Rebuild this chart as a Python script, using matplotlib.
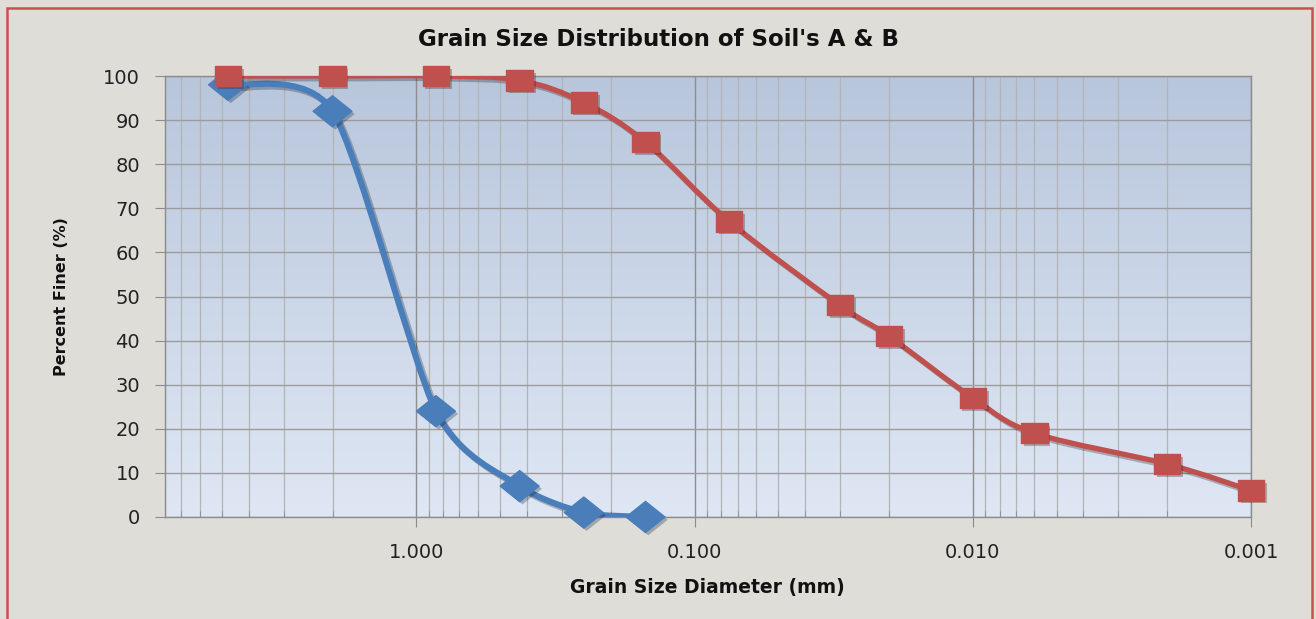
import numpy as np
import matplotlib
matplotlib.use('Agg')
import matplotlib.pyplot as plt
from matplotlib.path import Path
from matplotlib.patches import PathPatch, Rectangle
from matplotlib.colors import LinearSegmentedColormap
from matplotlib.ticker import FixedLocator, LogLocator, NullFormatter
import matplotlib.patheffects as pe

# sieve / hydrometer data
size_a = [4.75, 2.0, 0.85, 0.425, 0.25, 0.15]
finer_a = [98, 92, 24, 7, 1, 0]
size_b = [4.75, 2.0, 0.85, 0.425, 0.25, 0.15, 0.075, 0.030, 0.020, 0.010, 0.006, 0.002, 0.001]
finer_b = [100, 100, 100, 99, 94, 85, 67, 48, 41, 27, 19, 12, 6]
x_ticks = [1.0, 0.1, 0.01, 0.001]
y_ticks = list(range(0, 101, 10))

W, H = 1316, 619
fig = plt.figure(figsize=(W / 100, H / 100), dpi=100)
fig.patch.set_facecolor('#dfddd8')

# red chart border
fig.add_artist(Rectangle((7 / W, -0.05), (1312 - 7) / W, 1 - 8 / H + 0.05,
                         transform=fig.transFigure, fill=False,
                         edgecolor='#c9504d', linewidth=1.8))

pos = [165 / W, (H - 517) / H, (1251 - 165) / W, (517 - 76) / H]

# plot area gradient
bg = fig.add_axes(pos, zorder=0)
cmap = LinearSegmentedColormap.from_list('plotbg', ['#dfe7f4', '#b8c6dc'])
bg.imshow(np.linspace(0, 1, 256).reshape(-1, 1), extent=[0, 1, 0, 1],
          origin='lower', cmap=cmap, aspect='auto')
bg.axis('off')

ax = fig.add_axes(pos, zorder=1)
ax.set_facecolor('none')
ax.set_xscale('log')
ax.set_xlim(8, 0.001)
ax.set_ylim(0, 100)

ax.xaxis.set_major_locator(FixedLocator(x_ticks))
ax.set_xticklabels(['%.3f' % t for t in x_ticks])
ax.xaxis.set_minor_locator(LogLocator(base=10, subs=np.arange(2, 10)))
ax.xaxis.set_minor_formatter(NullFormatter())
ax.set_yticks(y_ticks)

ax.grid(which='major', axis='y', color='#9c9c9c', linewidth=1.0)
ax.grid(which='major', axis='x', color='#8e8e8e', linewidth=1.0)
ax.grid(which='minor', axis='x', color='#b4b4b4', linewidth=0.9)
ax.set_axisbelow(True)

for s in ax.spines.values():
    s.set_color('#8c8c8c')
    s.set_linewidth(1.0)

ax.tick_params(axis='both', which='major', direction='out', length=7,
               color='#8c8c8c', labelsize=14, labelcolor='#222222')
ax.tick_params(axis='x', which='major', pad=12)
ax.tick_params(axis='y', which='major', pad=11)
ax.tick_params(axis='x', which='minor', direction='in', length=4, color='#8c8c8c')


def smooth_patch(xs, ys, color, lw, k=6.0):
    # Excel-like smoothed line: cubic Bezier through the points in display space
    P = ax.transData.transform(np.column_stack([xs, ys]))
    n = len(P)
    verts = [P[0]]
    codes = [Path.MOVETO]
    for i in range(n - 1):
        p0 = P[i - 1] if i > 0 else P[i]
        p1 = P[i]
        p2 = P[i + 1]
        p3 = P[i + 2] if i + 2 < n else P[i + 1]
        c1 = p1 + (p2 - p0) / k
        c2 = p2 - (p3 - p1) / k
        verts += [c1, c2, p2]
        codes += [Path.CURVE4] * 3
    verts = ax.transData.inverted().transform(np.array(verts))
    patch = PathPatch(Path(verts, codes), facecolor='none', edgecolor=color,
                      linewidth=lw, capstyle='round', joinstyle='round',
                      transform=ax.transData, zorder=3)
    patch.set_path_effects([pe.SimpleLineShadow(offset=(2, -2), alpha=0.25),
                            pe.Normal()])
    ax.add_patch(patch)


# markers look stretched sideways in the original
wide_square = Path([(-0.65, -0.5), (0.65, -0.5), (0.65, 0.5), (-0.65, 0.5), (-0.65, -0.5)],
                   [Path.MOVETO, Path.LINETO, Path.LINETO, Path.LINETO, Path.CLOSEPOLY])
wide_diamond = Path([(0, -0.6), (0.75, 0), (0, 0.6), (-0.75, 0), (0, -0.6)],
                    [Path.MOVETO, Path.LINETO, Path.LINETO, Path.LINETO, Path.CLOSEPOLY])

blue = '#4a7ebb'
red = '#c0504d'

smooth_patch(size_a, finer_a, blue, 4.4, k=8.0)
ax.plot(size_a, finer_a, linestyle='none', marker=wide_diamond, markersize=28,
        color=blue, zorder=4, clip_on=False,
        path_effects=[pe.SimplePatchShadow(offset=(2, -2), alpha=0.3), pe.Normal()])

smooth_patch(size_b, finer_b, red, 3.8)
ax.plot(size_b, finer_b, linestyle='none', marker=wide_square, markersize=19,
        color=red, zorder=5, clip_on=False,
        path_effects=[pe.SimplePatchShadow(offset=(2, -2), alpha=0.3), pe.Normal()])

fig.text(659 / W, 1 - 40 / H, "Grain Size Distribution of Soil's A & B",
         ha='center', va='center', fontsize=16.5, fontweight='bold', color='#111111')
fig.text(707 / W, 1 - 588 / H, 'Grain Size Diameter (mm)',
         ha='center', va='center', fontsize=13.5, fontweight='bold', color='#111111')
fig.text(62 / W, 1 - 297 / H, 'Percent Finer (%)', rotation=90,
         ha='center', va='center', fontsize=11.5, fontweight='bold', color='#111111')

plt.savefig('out.png', dpi=100, facecolor=fig.get_facecolor())
